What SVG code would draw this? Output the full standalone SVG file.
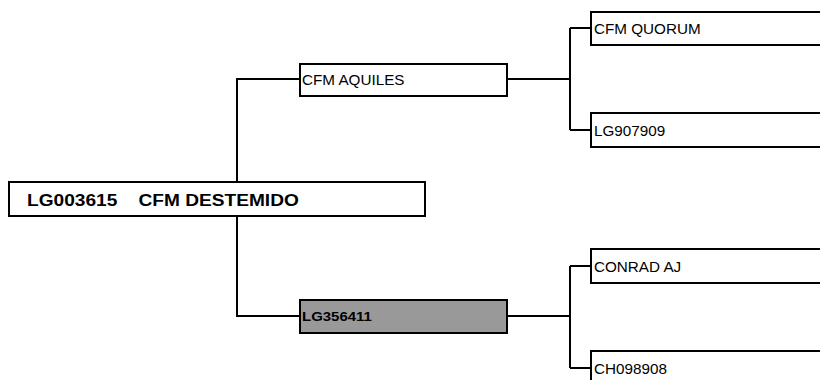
<svg xmlns="http://www.w3.org/2000/svg" width="820" height="380" viewBox="0 0 820 380">
<style>
.box{fill:#ffffff;stroke:#000000;stroke-width:2}
.sel{fill:#999999;stroke:#000000;stroke-width:2}
.ln{fill:none;stroke:#000000;stroke-width:2}
.t{font-family:"Liberation Sans",Arial,sans-serif;font-size:14px;fill:#000000}
.b{font-family:"Liberation Sans",Arial,sans-serif;font-weight:bold;fill:#000000}
</style>
<rect width="820" height="380" fill="#ffffff"/>
<g id="connectors">
<path class="ln" d="M237,182 V79 H300"/>
<path class="ln" d="M237,216 V316 H300"/>
<path class="ln" d="M507,79 H570 M570,28 V130 M570,28 H591 M570,130 H591"/>
<path class="ln" d="M507,316 H570 M570,266 V368 M570,266 H591 M570,368 H591"/>
</g>
<g id="root">
<rect class="box" x="9" y="182" width="416" height="34"/>
<text class="b" style="white-space:pre;font-size:17px" transform="translate(27,205.5) scale(1.125,1)">LG003615    CFM DESTEMIDO</text>
</g>
<g id="aquiles">
<rect class="box" x="300" y="64" width="207" height="32"/>
<text class="t" transform="translate(302,85) scale(1.09,1)">CFM AQUILES</text>
</g>
<g id="lg356411">
<rect class="sel" x="300" y="300" width="207" height="33"/>
<text class="b" style="font-size:13.5px" transform="translate(302,321) scale(1.11,1)">LG356411</text>
</g>
<g id="quorum">
<rect class="box" x="591" y="12" width="240" height="33"/>
<text class="t" transform="translate(594,33.5) scale(1.09,1)">CFM QUORUM</text>
</g>
<g id="lg907909">
<rect class="box" x="591" y="113" width="240" height="34"/>
<text class="t" transform="translate(594,135.5) scale(1.09,1)">LG907909</text>
</g>
<g id="conrad">
<rect class="box" x="591" y="249" width="240" height="34"/>
<text class="t" transform="translate(594,271.5) scale(1.09,1)">CONRAD AJ</text>
</g>
<g id="ch098908">
<rect class="box" x="591" y="351" width="240" height="34"/>
<text class="t" transform="translate(594,373.5) scale(1.09,1)">CH098908</text>
</g>
</svg>
